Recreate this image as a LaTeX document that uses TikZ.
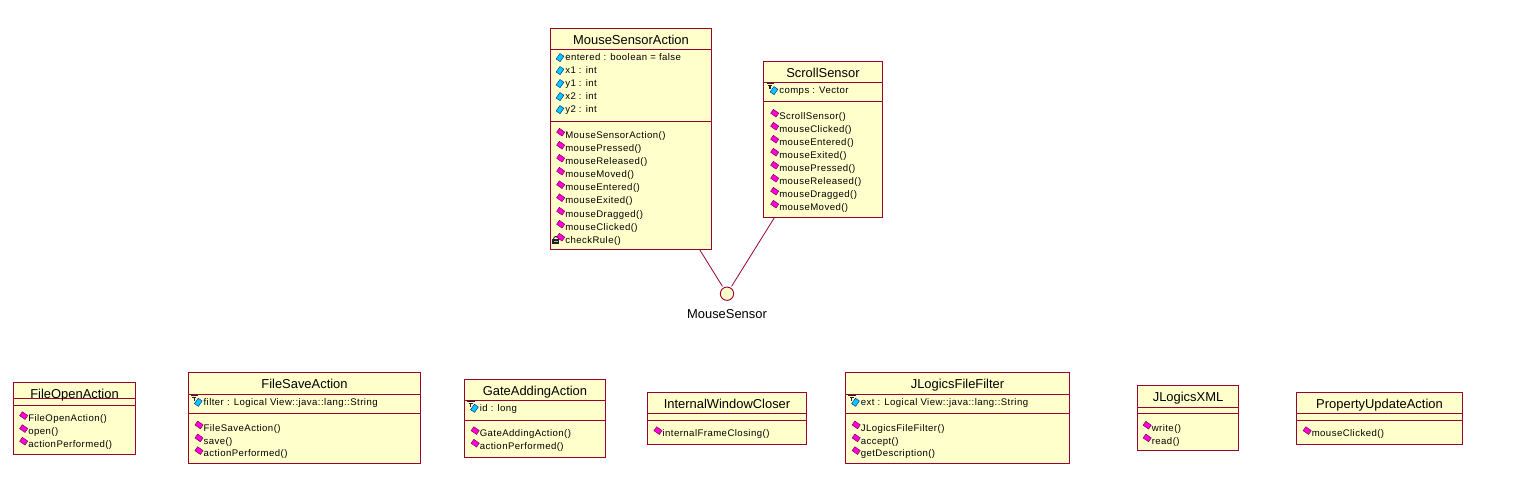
\documentclass[tikz,border=0pt]{standalone}
\usepackage{fontspec}
\setmainfont{Liberation Sans}
\newfontfamily\titlefont{Liberation Sans}
\newfontfamily\memberfont[LetterSpace=4.6]{Liberation Sans}
\definecolor{umlline}{HTML}{990033}
\definecolor{umlfill}{HTML}{FFFFCC}
\definecolor{opfill}{HTML}{FF00E0}
\definecolor{atfill}{HTML}{00CCFF}
\definecolor{icondark}{HTML}{222222}
\tikzset{
  umlbox/.style={draw=umlline,fill=umlfill,line width=0.75pt,inner sep=0pt,outer sep=0pt,anchor=north west,rectangle},
  cname/.style={inner sep=0pt,anchor=base,font=\titlefont\fontsize{9.7}{10}\selectfont},
  member/.style={inner sep=0pt,anchor=base west,font=\memberfont\fontsize{7.2}{8}\selectfont},
  sepline/.style={draw=umlline,line width=0.75pt},
  link/.style={draw=umlline,line width=0.6pt},
  opicon/.style={draw=umlline!70!black,fill=opfill,line width=0.3pt,rotate=-35,minimum width=5pt,minimum height=3.6pt,inner sep=0pt,outer sep=0pt,rectangle},
  aticon/.style={draw=icondark!50!blue,fill=atfill,line width=0.3pt,rotate=55,minimum width=5pt,minimum height=3.6pt,inner sep=0pt,outer sep=0pt,rectangle},
}
% \cls{name}{x1}{y1}{x2}{y2}{sep1}{sep2}{title}
\newcommand{\cls}[8]{%
  \pgfmathsetmacro{\bw}{(#4-#2)*0.75}\pgfmathsetmacro{\bh}{(#5-#3)*0.75}%
  \node[umlbox,minimum width=\bw pt,minimum height=\bh pt] (#1) at (#2,#3) {};
  \draw[sepline] (#1.west |- 0,#6) -- (#1.east |- 0,#6);
  \draw[sepline] (#1.west |- 0,#7) -- (#1.east |- 0,#7);
  \pgfmathsetmacro{\ty}{#3+15.9}%
  \pgfmathsetmacro{\tx}{(#2+#4)/2}%
  \node[cname] (#1-title) at (\tx,\ty) {#8};
}
% \op{node}{x}{y}{text}
\newcommand{\op}[4]{%
  \node[opicon] (#1-i) at (#2-4.3,#3-2.8) {};
  \node[member] (#1) at (#2,#3+3.3) {#4};
}
\newcommand{\at}[4]{%
  \node[aticon] (#1-i) at (#2-5,#3+0.6) {};
  \node[member] (#1) at (#2,#3+3.3) {#4};
}
% protected marker
\newcommand{\prot}[2]{%
  \draw[icondark,line width=0.9pt] (#1-12.3,#2-6.5) -- (#1-5,#2-6.5) (#1-11,#2-4.5) -- (#1-7,#2-4.5) (#1-9,#2-4.5) -- (#1-9,#2-1);
}
% private marker
\newcommand{\priv}[2]{%
  \draw[icondark,line width=0.7pt] (#1-11.5,#2-1) arc[start angle=180,end angle=0,radius=2pt];
  \fill[icondark] (#1-12.7,#2-1) rectangle (#1-6.5,#2+4);
  \fill[white!70!black] (#1-11.5,#2+0.5) rectangle (#1-7.5,#2+1.5);
}
\begin{document}
\begin{tikzpicture}[x=0.75pt,y=-0.75pt]
\useasboundingbox (0,0) rectangle (1536,487);
\fill[white] (0,0) rectangle (1536,487);
% top classes and interface
\cls{msa}{550.5}{28.5}{711.5}{249.5}{49.5}{121.5}{MouseSensorAction}
\cls{ss}{763.5}{61.5}{882.5}{217.5}{82.5}{101.5}{ScrollSensor}
\node[circle,draw=umlline,fill=umlfill,line width=0.7pt,minimum size=10pt,inner sep=0pt,outer sep=0pt] (ms) at (727,293.7) {};
\node[cname] (mslabel) at (727,318) {MouseSensor};
\draw[link,shorten >=1.5pt] (msa) -- (ms);
\draw[link,shorten >=1.5pt] (ss) -- (ms);
\at{a1}{565}{57}{entered : boolean = false}
\at{a2}{565}{70}{x1 : int}
\at{a3}{565}{83}{y1 : int}
\at{a4}{565}{96}{x2 : int}
\at{a5}{565}{109}{y2 : int}
\op{o1}{565}{135}{MouseSensorAction()}
\op{o2}{565}{148}{mousePressed()}
\op{o3}{565}{161}{mouseReleased()}
\op{o4}{565}{174}{mouseMoved()}
\op{o5}{565}{187.5}{mouseEntered()}
\op{o6}{565}{200.5}{mouseExited()}
\op{o7}{565}{214}{mouseDragged()}
\op{o8}{565}{227}{mouseClicked()}
\priv{565}{240}
\op{o9}{565}{240}{checkRule()}
\prot{779}{90}
\at{s0}{779}{90}{comps : Vector}
\op{s1}{779}{116}{ScrollSensor()}
\op{s2}{779}{129}{mouseClicked()}
\op{s3}{779}{142}{mouseEntered()}
\op{s4}{779}{155}{mouseExited()}
\op{s5}{779}{168}{mousePressed()}
\op{s6}{779}{181}{mouseReleased()}
\op{s7}{779}{194}{mouseDragged()}
\op{s8}{779}{207}{mouseMoved()}
% bottom row
\cls{foa}{13.5}{382.5}{135.5}{454.5}{398.5}{405.5}{FileOpenAction}
\op{f1}{28}{418.4}{FileOpenAction()}
\op{f2}{28}{431.4}{open()}
\op{f3}{28}{444}{actionPerformed()}
\cls{fsa}{188.5}{372.5}{420.5}{463.5}{394.5}{413.5}{FileSaveAction}
\prot{203.3}{401.7}
\at{g0}{203.3}{401.7}{filter : Logical View::java::lang::String}
\op{g1}{203.3}{427.7}{FileSaveAction()}
\op{g2}{203.3}{440.7}{save()}
\op{g3}{203.3}{453.4}{actionPerformed()}
\cls{gaa}{464.5}{379.5}{605.5}{457.5}{400.5}{420.5}{GateAddingAction}
\prot{479.5}{407.7}
\at{h0}{479.5}{407.7}{id : long}
\op{h1}{479.5}{433.4}{GateAddingAction()}
\op{h2}{479.5}{446}{actionPerformed()}
\cls{iwc}{647.5}{392.5}{806.5}{444.5}{413.5}{420.5}{InternalWindowCloser}
\op{i1}{662.3}{433.4}{internalFrameClosing()}
\cls{jff}{845.5}{372.5}{1069.5}{463.5}{394.5}{413.5}{JLogicsFileFilter}
\prot{860.5}{401.7}
\at{j0}{860.5}{401.7}{ext : Logical View::java::lang::String}
\op{j1}{860.5}{427.7}{JLogicsFileFilter()}
\op{j2}{860.5}{440.7}{accept()}
\op{j3}{860.5}{453.4}{getDescription()}
\cls{jxm}{1137.5}{385.5}{1238.5}{450.5}{407.5}{413.5}{JLogicsXML}
\op{x1}{1151.5}{428}{write()}
\op{x2}{1151.5}{440.7}{read()}
\cls{pua}{1296.5}{392.5}{1462.5}{444.5}{413.5}{420.5}{PropertyUpdateAction}
\op{p1}{1311.5}{433.4}{mouseClicked()}
\end{tikzpicture}
\end{document}
